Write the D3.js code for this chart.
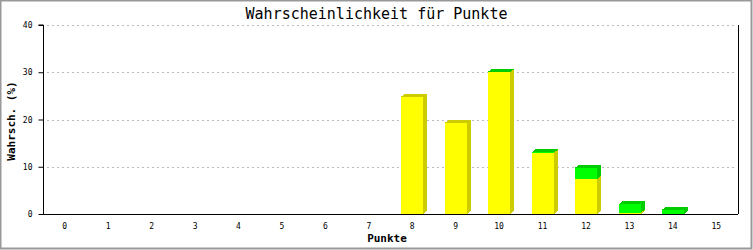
<!DOCTYPE html>
<html>
<head>
<meta charset="utf-8">
<script src="https://cdn.jsdelivr.net/npm/d3@7"></script>
<style>
  body { margin: 0; background: #fff; }
  text { font-family: "DejaVu Sans Mono", monospace; fill: #000; }
</style>
</head>
<body>
<div class="canvas"></div>
<script>
// Chart size and margins
const width = 753;
const height = 250;
const marginTop = 25;
const marginRight = 15;
const marginBottom = 36;
const marginLeft = 43;

// Data: points and the two stacked series (percent)
const points = ["0","1","2","3","4","5","6","7","8","9","10","11","12","13","14","15"];
const yellowValues = [0, 0, 0, 0, 0, 0, 0, 0, 24.8, 19.3, 30, 13, 7.4, 0.3, 0, 0];
const greenValues  = [0, 0, 0, 0, 0, 0, 0, 0, 0, 0, 0.1, 0.1, 2.4, 1.8, 0.9, 0];
const yTicks = [0, 10, 20, 30, 40];

const series = [
  { values: yellowValues, front: "#ffff00", dark: "#cccc00" },
  { values: greenValues,  front: "#00ff00", dark: "#00cc00" }
];

// 3D depth
const dx = 4, dy = 3;

const svg = d3.select(".canvas").append("svg")
  .attr("width", width)
  .attr("height", height);

// Frame
svg.append("rect")
  .attr("x", 0.5).attr("y", 0.5)
  .attr("width", width - 2).attr("height", height - 2)
  .attr("fill", "#fff")
  .attr("stroke", "#999")
  .attr("stroke-width", 2);

const x = d3.scaleBand()
  .domain(points)
  .range([marginLeft, width - marginRight])
  .paddingInner(0.5)
  .paddingOuter(0.25);

const y = d3.scaleLinear()
  .domain([0, 40])
  .range([height - marginBottom, marginTop]);

// Gridlines
svg.append("g")
  .selectAll("line")
  .data(yTicks.filter(d => d > 0))
  .join("line")
    .attr("x1", marginLeft + 4)
    .attr("x2", width - marginRight - 1)
    .attr("y1", d => Math.round(y(d)) + 0.5)
    .attr("y2", d => Math.round(y(d)) + 0.5)
    .attr("stroke", "#bbb")
    .attr("stroke-dasharray", "2,3");

// Stacked 3D bars
const stacked = points.map((p, i) => {
  let base = 0;
  return series.map(s => {
    const seg = { p, y0: base, y1: base + s.values[i], s };
    base += s.values[i];
    return seg;
  });
});

const bars = svg.append("g").attr("shape-rendering", "crispEdges");
stacked.forEach(segs => {
  segs.filter(d => d.y1 > d.y0).forEach(d => {
    const x0 = Math.round(x(d.p));
    const x1 = x0 + Math.round(x.bandwidth());
    const yt = y(d.y1), yb = y(d.y0);
    // side
    bars.append("polygon")
      .attr("points", [[x1, yt], [x1 + dx, yt - dy], [x1 + dx, yb - dy], [x1, yb]].join(" "))
      .attr("fill", d.s.dark);
    // top
    bars.append("polygon")
      .attr("points", [[x0, yt], [x0 + dx, yt - dy], [x1 + dx, yt - dy], [x1, yt]].join(" "))
      .attr("fill", d.s.dark);
    // front
    bars.append("rect")
      .attr("x", x0).attr("y", yt)
      .attr("width", x1 - x0).attr("height", yb - yt)
      .attr("fill", d.s.front);
  });
});

// Axes
const yAxis = d3.axisLeft(y).tickValues(yTicks).tickSize(5).tickPadding(6);
const gy = svg.append("g")
  .attr("transform", `translate(${marginLeft + 0.5}, 0)`)
  .call(yAxis);
gy.select(".domain").attr("d", `M-5,${y(40)}H0V${y(0)}`);
gy.selectAll("text").attr("font-size", 8).attr("font-family", "DejaVu Sans Mono");

const xAxis = d3.axisBottom(x).tickSize(0).tickPadding(9);
const gx = svg.append("g")
  .attr("transform", `translate(0, ${Math.round(y(0)) + 0.5})`)
  .call(xAxis);
gx.select(".domain").attr("d", `M${marginLeft},0H${width - marginRight}`);
gx.selectAll("text").attr("font-size", 8).attr("font-family", "DejaVu Sans Mono");

// Right border of plot
svg.append("line")
  .attr("x1", width - marginRight + 0.5).attr("x2", width - marginRight + 0.5)
  .attr("y1", y(40)).attr("y2", y(0))
  .attr("stroke", "#000");

// Titles
svg.append("text")
  .attr("x", width / 2)
  .attr("y", 19)
  .attr("text-anchor", "middle")
  .attr("font-size", 15)
  .text("Wahrscheinlichkeit für Punkte");

svg.append("text")
  .attr("x", 387)
  .attr("y", 242)
  .attr("text-anchor", "middle")
  .attr("font-size", 11)
  .attr("font-weight", "bold")
  .text("Punkte");

svg.append("text")
  .attr("transform", "translate(15, 121) rotate(-90)")
  .attr("text-anchor", "middle")
  .attr("font-size", 11)
  .attr("font-weight", "bold")
  .text("Wahrsch. (%)");
</script>
</body>
</html>
